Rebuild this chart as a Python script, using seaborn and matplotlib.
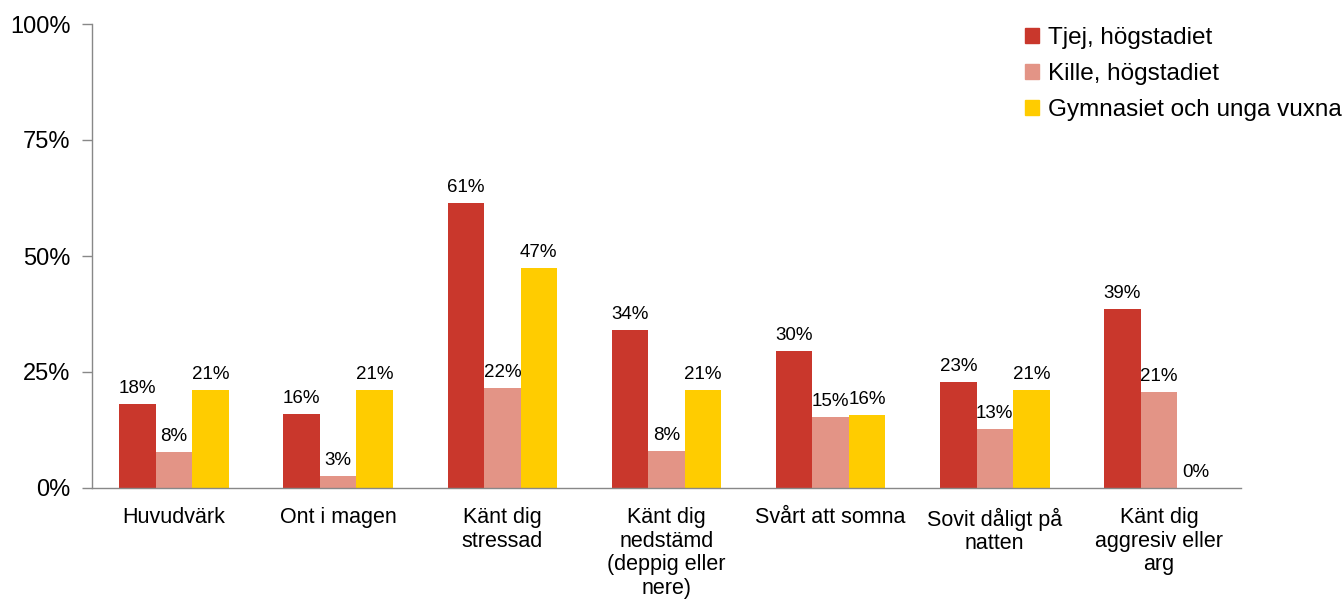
import seaborn as sns
import matplotlib.pyplot as plt
import pandas as pd
import numpy as np

categories = ["Huvudvärk", "Ont i magen", "Känt dig\nstressad",
              "Känt dig\nnedstämd\n(deppig eller\nnere)", "Svårt att somna",
              "Sovit dåligt på\nnatten", "Känt dig\naggresiv eller\narg"]
groups = ["Tjej, högstadiet", "Kille, högstadiet", "Gymnasiet och unga vuxna"]

tjej = [18.2, 15.9, 61.4, 34.1, 29.6, 22.8, 38.6]
kille = [7.8, 2.6, 21.6, 8.0, 15.4, 12.7, 20.6]
gymn = [21.1, 21.1, 47.4, 21.1, 15.8, 21.1, 0.0]

colors = ["#C9372C", "#E39486", "#FFCC00"]

rows = []
for g, vals in zip(groups, [tjej, kille, gymn]):
    for c, v in zip(categories, vals):
        rows.append({"kat": c, "grupp": g, "andel": v})
df = pd.DataFrame(rows)

sns.set_style("white", {"text.color": "black", "xtick.color": "black",
                        "ytick.color": "black"})
plt.rcParams['font.family'] = ['Liberation Sans', 'DejaVu Sans']

fig = plt.figure(figsize=(13.44, 6), dpi=100)
ax = fig.add_axes([92/1344, 1 - 488/600, (1241 - 92)/1344, (488 - 24)/600])

sns.barplot(data=df, x="kat", y="andel", hue="grupp", palette=colors,
            width=0.667, saturation=1, linewidth=0, ax=ax, legend=False)

for cont, vals in zip(ax.containers, [tjej, kille, gymn]):
    ax.bar_label(cont, labels=[f"{round(v)}%" for v in vals], padding=5,
                 fontsize=13.5, color="black")

ax.set_ylim(0, 100)
ax.set_xlim(-0.5, len(categories) - 0.5)
ax.set_yticks([0, 25, 50, 75, 100])
ax.set_yticklabels(["0%", "25%", "50%", "75%", "100%"], fontsize=17)
ax.set_xticks(range(len(categories)))
ax.set_xticklabels(categories, fontsize=15.5, linespacing=1.15)
ax.set_xticks(np.arange(-0.5, len(categories)), minor=True)
ax.tick_params(axis="x", which="major", length=0, pad=14, labelcolor="black")
ax.tick_params(axis="x", which="minor", length=6, color="#888888", width=1)
ax.tick_params(axis="y", length=7, color="#888888", width=1, pad=8.5, left=True,
               labelcolor="black")
ax.set_xlabel("")
ax.set_ylabel("")
sns.despine(ax=ax)
for s in ["left", "bottom"]:
    ax.spines[s].set_color("#888888")
    ax.spines[s].set_linewidth(1)

handles = [plt.Rectangle((0, 0), 1, 1, color=c) for c in colors]
leg = fig.legend(handles, groups, loc="upper left", bbox_to_anchor=(1003/1344, 1 - 5/600),
                 frameon=False, fontsize=17.5, handlelength=0.6, handleheight=0.6,
                 handletextpad=0.35, labelspacing=0.58)
for t in leg.get_texts():
    t.set_color("black")

fig.savefig("out.png", dpi=100)
